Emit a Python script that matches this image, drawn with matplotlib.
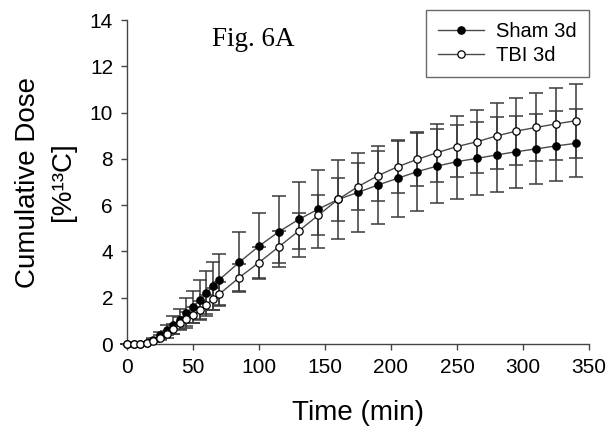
import numpy as np
import matplotlib
matplotlib.use("Agg")
import matplotlib.pyplot as plt

# time points (min)
time_min = [0, 5, 10, 15, 20, 25, 30, 35, 40, 45, 50, 55, 60, 65, 70,
            85, 100, 115, 130, 145, 160, 175, 190, 205, 220, 235, 250,
            265, 280, 295, 310, 325, 340]

sham_3d = [0, 0, 0.01, 0.05, 0.18, 0.38, 0.6, 0.83, 1.05, 1.33, 1.61, 1.9, 2.19, 2.5, 2.78,
           3.53, 4.23, 4.85, 5.38, 5.83, 6.25, 6.55, 6.87, 7.16, 7.45, 7.69, 7.88,
           8.02, 8.17, 8.31, 8.43, 8.56, 8.67]
sham_sd = [0, 0, 0, 0.02, 0.08, 0.15, 0.22, 0.4, 0.45, 0.64, 0.69, 0.87, 0.96, 1.03, 1.1,
           1.3, 1.44, 1.54, 1.62, 1.7, 1.7, 1.71, 1.69, 1.66, 1.7, 1.6, 1.6,
           1.58, 1.62, 1.55, 1.51, 1.5, 1.47]

tbi_3d = [0, 0, 0.01, 0.06, 0.14, 0.27, 0.42, 0.65, 0.89, 1.07, 1.25, 1.47, 1.7, 1.94, 2.16,
          2.87, 3.52, 4.2, 4.88, 5.57, 6.25, 6.8, 7.27, 7.66, 7.98, 8.27, 8.53,
          8.74, 8.99, 9.2, 9.36, 9.51, 9.65]
tbi_sd = [0, 0, 0, 0.03, 0.06, 0.1, 0.15, 0.2, 0.26, 0.3, 0.34, 0.38, 0.42, 0.47, 0.52,
          0.58, 0.66, 0.69, 0.76, 0.87, 0.92, 1.0, 1.07, 1.12, 1.15, 1.25, 1.31,
          1.37, 1.41, 1.45, 1.47, 1.55, 1.6]

plt.rcParams["font.family"] = ["Liberation Sans", "DejaVu Sans"]

fig = plt.figure(figsize=(6.11, 4.34), dpi=100)
ax = fig.add_axes([127 / 611, 90 / 434, 462 / 611, 324 / 434])

bar_col = "#3a3a3a"
line_col = "#4a4a4a"

ax.errorbar(time_min, sham_3d, yerr=sham_sd, fmt="none", ecolor=bar_col,
            elinewidth=1.1, capsize=5, capthick=1.1, zorder=2, clip_on=False)
ax.errorbar(time_min, tbi_3d, yerr=tbi_sd, fmt="none", ecolor=bar_col,
            elinewidth=1.1, capsize=5, capthick=1.1, zorder=2, clip_on=False)

ax.plot(time_min, sham_3d, color=line_col, lw=1.0, marker="o", ms=5.3,
        mfc="black", mec="black", mew=0.9, label="Sham 3d", zorder=3, clip_on=False)
ax.plot(time_min, tbi_3d, color=line_col, lw=1.0, marker="o", ms=5.3,
        mfc="white", mec="black", mew=0.9, label="TBI 3d", zorder=4, clip_on=False)

ax.set_xlim(0, 350)
ax.set_ylim(0, 14)
ax.set_xticks(np.arange(0, 351, 50))
ax.set_yticks(np.arange(0, 15, 2))

for side in ["top", "right"]:
    ax.spines[side].set_visible(False)
for side in ["left", "bottom"]:
    ax.spines[side].set_color("#444444")
    ax.spines[side].set_linewidth(1.0)

ax.tick_params(direction="out", length=4, width=1.0, colors="#444444",
               labelsize=15, labelcolor="black", pad=6)

ax.set_xlabel("Time (min)", fontsize=20, labelpad=17)
ax.set_ylabel("Cumulative Dose\n[%\u00b9\u00b3C]", fontsize=20, labelpad=10,
              linespacing=1.42)

ax.text(0.183, 0.92, "Fig. 6A", transform=ax.transAxes, fontsize=19.5,
        family=["Liberation Serif", "DejaVu Serif"], va="baseline")

leg = ax.legend(loc="upper right", bbox_to_anchor=(589 / 611, 424 / 434),
                bbox_transform=fig.transFigure, fontsize=14.5, frameon=True,
                fancybox=False, handlelength=2.3, handletextpad=0.6,
                labelspacing=0.25, borderpad=0.6, borderaxespad=0)
leg.get_frame().set_edgecolor("#444444")
leg.get_frame().set_linewidth(1.0)

fig.savefig("out.png", dpi=100)
